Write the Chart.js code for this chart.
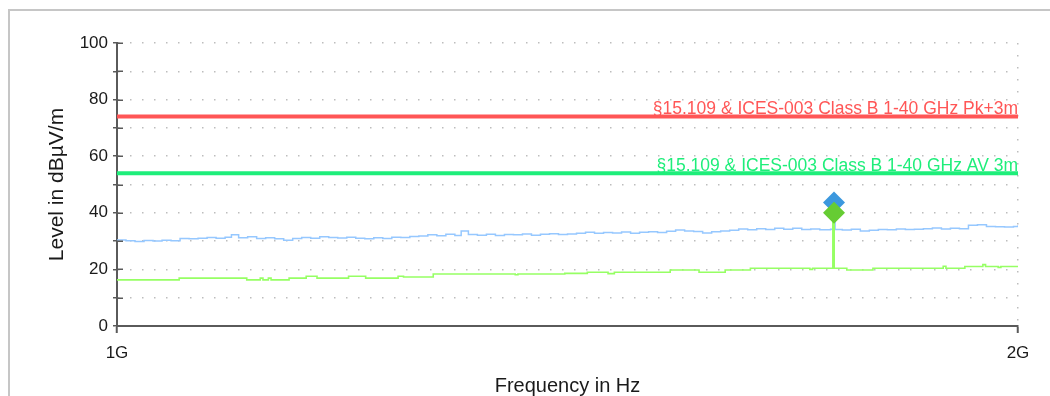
<!DOCTYPE html>
<html>
<head>
<meta charset="utf-8">
<script src="https://cdn.jsdelivr.net/npm/chart.js@4/dist/chart.umd.min.js"></script>
<style>
  html, body { margin: 0; padding: 0; background: #fff; overflow: hidden; }
  #wrap { position: relative; width: 1050px; height: 396px; }
  #frame { position: absolute; left: 8px; top: 9px; width: 1200px; height: 600px;
           border-left: 2px solid #c6c6c6; border-top: 2px solid #c6c6c6; }
  canvas { position: absolute; left: 0; top: 0; }
</style>
</head>
<body>
<div id="wrap">
  <div id="frame"></div>
  <canvas id="c" width="1050" height="396"></canvas>
</div>
<script>
// ---------- DATA ----------
const xTickValues = [1000, 2000];           // MHz
const xTickLabels = ['1G', '2G'];
const yMin = 0, yMax = 100, yStep = 10;

// Peak trace (blue), frequency in MHz, level in dBµV/m
const peakFreq = [1000,1010,1020,1030,1040,1050,1060,1070,1080,1090,1100,1110,1120,1127,1135,1145,1155,1165,1175,1185,1195,1205,1215,1225,1235,1245,1255,1265,1275,1285,1295,1305,1315,1325,1335,1345,1355,1365,1375,1382,1390,1400,1410,1420,1430,1440,1450,1460,1470,1480,1490,1500,1510,1520,1530,1540,1550,1560,1570,1580,1590,1600,1610,1620,1630,1640,1650,1660,1670,1680,1690,1700,1710,1720,1730,1740,1750,1760,1770,1780,1792,1794.5,1797,1805,1815,1825,1835,1845,1855,1865,1875,1885,1895,1905,1915,1925,1935,1945,1955,1965,1975,1985,1995,2000];
const peakLevel = [30.4,30.1,29.9,30.2,30.0,30.3,30.1,30.9,30.8,31.0,31.3,31.0,31.4,32.2,31.2,31.5,30.9,31.2,30.8,30.3,30.9,31.3,31.0,31.5,31.3,31.1,31.4,31.0,30.8,31.2,30.9,31.4,31.3,31.6,31.8,32.2,31.9,32.4,32.0,33.6,32.3,32.1,32.4,32.0,32.3,32.2,32.5,32.1,32.4,32.6,32.3,32.5,32.8,33.1,32.8,33.0,32.9,33.2,32.8,33.1,33.3,33.0,33.5,33.9,33.6,33.4,32.9,33.3,33.6,33.8,34.3,34.0,34.4,34.1,34.5,34.2,34.5,34.1,34.3,34.0,34.2,43.6,34.1,33.9,34.2,33.6,33.8,34.1,34.0,34.3,34.1,34.2,34.4,34.6,34.3,34.5,34.4,35.6,35.8,35.2,35.1,35.0,35.2,35.6];

// Average trace (green), step points (each level holds until the next frequency)
const avgFreq  = [1000,1069,1144,1159,1162,1168,1171,1191,1210,1222,1257,1276,1312,1318,1351,1442,1445,1497,1522,1545,1552,1614,1646,1675,1703,1769,1772,1794.5,1796,1810,1839,1917,1920,1941,1961,1964,1978,1981,2000];
const avgLevel = [16.3,16.9,16.3,16.9,16.3,16.9,16.3,16.9,17.6,16.9,17.6,16.9,17.6,17.3,18.4,18.1,18.4,18.6,19.0,18.5,19.0,19.8,19.0,19.8,20.4,20.0,20.4,40.0,20.4,19.8,20.4,21.1,20.4,21.0,21.7,21.0,20.7,21.0,21.0];

// Limit lines
const limitNames  = ['§15.109 & ICES-003 Class B 1-40 GHz Pk+3m', '§15.109 & ICES-003 Class B 1-40 GHz AV 3m'];
const limitLevels = [74, 54];

// Final measurement markers
const markerFreq   = 1795.8;
const markerPeak   = 43.6;
const markerAvg    = 40.0;

// ---------- STYLE ----------
const FONT = '"Liberation Sans", Arial, Helvetica, sans-serif';
const COL = {
  limitPk: 'rgb(255,86,86)',
  limitAv: 'rgb(30,238,122)',
  peak: 'rgb(150,200,255)',
  avg: 'rgb(150,255,100)',
  mPeak: 'rgb(60,152,222)',
  mAvg: 'rgb(102,204,51)',
  grid: '#bdbdbd',
  axis: '#5a5a5a',
  text: '#1a1a1a'
};
const limitColors = [COL.limitPk, COL.limitAv];

const toXY = (xs, ys) => xs.map((x, i) => ({x, y: ys[i]}));

const extras = {
  id: 'extras',
  afterDatasetsDraw(chart) {
    const {ctx, scales: {x, y}} = chart;
    ctx.save();
    ctx.font = '17.5px ' + FONT;
    ctx.textAlign = 'right';
    ctx.textBaseline = 'alphabetic';
    limitNames.forEach((name, i) => {
      ctx.fillStyle = limitColors[i];
      ctx.fillText(name, x.right, y.getPixelForValue(limitLevels[i]) - 2.5);
    });
    ctx.restore();
  },
  afterDraw(chart) {
    const {ctx, scales: {y}} = chart;
    ctx.save();
    ctx.strokeStyle = COL.axis;
    ctx.lineWidth = 1.5;
    y.ticks.forEach(t => {
      const py = Math.round(y.getPixelForValue(t.value)) + 0.25;
      ctx.beginPath();
      ctx.moveTo(y.right, py);
      ctx.lineTo(y.right + 6, py);
      ctx.stroke();
    });
    ctx.restore();
  }
};

new Chart(document.getElementById('c'), {
  type: 'scatter',
  data: {
    datasets: [
      { label: 'marker avg', data: [{x: markerFreq, y: markerAvg}], pointStyle: 'rectRot',
        pointRadius: 11, backgroundColor: COL.mAvg, borderColor: COL.mAvg, borderWidth: 0, order: 0 },
      { label: 'marker pk', data: [{x: markerFreq, y: markerPeak}], pointStyle: 'rectRot',
        pointRadius: 11, backgroundColor: COL.mPeak, borderColor: COL.mPeak, borderWidth: 0, order: 1 },
      { label: limitNames[0], data: toXY(xTickValues, [limitLevels[0], limitLevels[0]]), showLine: true,
        pointRadius: 0, borderColor: COL.limitPk, borderWidth: 4, order: 2 },
      { label: limitNames[1], data: toXY(xTickValues, [limitLevels[1], limitLevels[1]]), showLine: true,
        pointRadius: 0, borderColor: COL.limitAv, borderWidth: 4, order: 3 },
      { label: 'AV', data: toXY(avgFreq, avgLevel), showLine: true, stepped: 'before',
        pointRadius: 0, borderColor: COL.avg, borderWidth: 1.6, order: 4 },
      { label: 'Pk', data: toXY(peakFreq, peakLevel), showLine: true, stepped: 'before',
        pointRadius: 0, borderColor: COL.peak, borderWidth: 1.5, order: 5 }
    ]
  },
  options: {
    responsive: false,
    animation: false,
    devicePixelRatio: 1,
    layout: { padding: { top: 43, right: 32, left: 0, bottom: 0 } },
    plugins: { legend: { display: false }, tooltip: { enabled: false } },
    scales: {
      x: {
        type: 'linear', min: xTickValues[0], max: xTickValues[xTickValues.length - 1],
        afterBuildTicks: s => { s.ticks = xTickValues.map(v => ({value: v})); },
        afterFit: s => { s.height = 70; },
        ticks: {
          callback: (v) => xTickLabels[xTickValues.indexOf(v)],
          font: { family: FONT, size: 17 }, color: COL.text, padding: 10, maxRotation: 0
        },
        grid: {
          color: c => (c.index === 0 ? 'rgba(0,0,0,0)' : COL.grid),
          lineWidth: 1.5, tickLength: 7, tickColor: COL.axis, tickWidth: 2
        },
        border: { display: true, color: COL.axis, width: 2, dash: [1.5, 10.5] },
        title: { display: true, text: 'Frequency in Hz', font: { family: FONT, size: 20 },
                 color: COL.text, padding: { top: 0, bottom: -2 } }
      },
      y: {
        min: yMin, max: yMax,
        afterFit: s => { s.width = 117; },
        ticks: {
          stepSize: yStep,
          callback: v => (v % 20 === 0 ? String(v) : ''),
          font: { family: FONT, size: 17 }, color: COL.text, padding: 5
        },
        grid: {
          color: c => (c.tick && c.tick.value === 0 ? 'rgba(0,0,0,0)' : COL.grid),
          lineWidth: 1.5, tickLength: 4, tickColor: COL.axis, tickWidth: 1.5
        },
        border: { display: true, color: COL.axis, width: 2, dash: [1.5, 10.5] },
        title: { display: true, text: 'Level in dBµV/m', font: { family: FONT, size: 21 },
                 color: COL.text, padding: { top: 45, bottom: 0 } }
      }
    }
  },
  plugins: [extras]
});
</script>
</body>
</html>
